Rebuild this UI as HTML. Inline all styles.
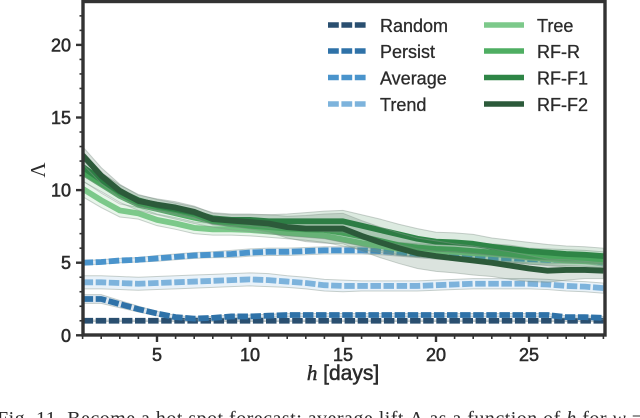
<!DOCTYPE html>
<html lang="en">
<head>
<meta charset="utf-8">
<title>Average lift as a function of h</title>
<style>
  html, body { margin: 0; padding: 0; background: #fff; }
  body { width: 640px; height: 418px; overflow: hidden; }
  svg { display: block; }
  text { font-family: "Liberation Sans", sans-serif; fill: #2b2b2b; }
</style>
</head>
<body>
<svg id="chart" width="640" height="418" viewBox="0 0 640 418" xmlns="http://www.w3.org/2000/svg">
  <defs><clipPath id="plot-clip"><rect x="83" y="1.5" width="522" height="333.5"></rect></clipPath></defs>
  <g id="bands" clip-path="url(#plot-clip)"></g>
  <g id="ticks"></g>
  <rect x="83" y="1.5" width="522" height="333.5" fill="none" stroke="#333" stroke-width="3.4"></rect>
  <g id="legend"></g>
  <text x="343" y="380" text-anchor="middle" font-size="21" stroke="#2b2b2b" stroke-width="0.5"><tspan font-family="Liberation Serif, serif" font-style="italic">h</tspan> [days]</text>
  <text transform="translate(45,170) rotate(-90)" text-anchor="middle" font-size="21" style="font-family:'Liberation Serif',serif">Λ</text>
  <text x="-3" y="425" font-size="20" textLength="646" style="font-family:'Liberation Serif',serif" fill="#222">Fig. 11.  Become a hot spot forecast: average lift Λ as a function of <tspan font-style="italic">h</tspan> for <tspan font-style="italic">w</tspan> =</text>
</svg>
<script>
const days = [1,2,3,4,5,6,7,8,9,10,11,12,13,14,15,16,17,18,19,20,21,22,23,24,25,26,27,28,29];
const xTicks = [5,10,15,20,25];
const yTicks = [0,5,10,15,20];

const randomValues = [1.0,1.0,1.0,1.0,1.0,1.0,1.0,1.0,1.0,1.0,1.0,1.0,1.0,1.0,1.0,1.0,1.0,1.0,1.0,1.0,1.0,1.0,1.0,1.0,1.0,1.0,1.0,1.0,1.0];
const randomSpread = [0.05,0.05,0.05,0.05,0.05,0.05,0.05,0.05,0.05,0.05,0.05,0.05,0.05,0.05,0.05,0.05,0.05,0.05,0.05,0.05,0.05,0.05,0.05,0.05,0.05,0.05,0.05,0.05,0.05];
const persistValues = [2.5,2.5,2.15,1.8,1.5,1.25,1.15,1.2,1.3,1.3,1.35,1.4,1.4,1.4,1.4,1.4,1.4,1.4,1.4,1.4,1.4,1.4,1.4,1.4,1.4,1.4,1.25,1.25,1.2];
const persistSpread = [0.3,0.3,0.25,0.2,0.15,0.12,0.1,0.1,0.1,0.1,0.1,0.1,0.1,0.1,0.1,0.1,0.1,0.1,0.1,0.1,0.1,0.1,0.1,0.1,0.1,0.1,0.1,0.1,0.1];
const averageValues = [5.0,5.05,5.15,5.2,5.3,5.4,5.5,5.55,5.6,5.7,5.75,5.75,5.8,5.85,5.85,5.85,5.8,5.7,5.6,5.5,5.4,5.35,5.3,5.3,5.25,5.2,5.2,5.2,5.0];
const averageSpread = [0.15,0.15,0.15,0.15,0.2,0.2,0.2,0.2,0.25,0.25,0.25,0.25,0.25,0.25,0.25,0.25,0.25,0.25,0.25,0.25,0.25,0.25,0.25,0.25,0.25,0.25,0.25,0.25,0.25];
const trendValues = [3.65,3.65,3.6,3.55,3.6,3.65,3.7,3.75,3.8,3.85,3.8,3.7,3.6,3.45,3.4,3.4,3.4,3.4,3.4,3.45,3.5,3.55,3.55,3.55,3.55,3.5,3.4,3.35,3.25];
const trendSpread = [0.45,0.45,0.45,0.45,0.45,0.45,0.45,0.45,0.45,0.45,0.45,0.4,0.4,0.4,0.4,0.35,0.35,0.35,0.35,0.35,0.35,0.35,0.35,0.35,0.35,0.35,0.35,0.35,0.35];
const treeValues = [10.1,9.3,8.6,8.4,7.95,7.7,7.4,7.3,7.3,7.25,7.15,7.05,6.95,6.85,6.6,6.35,6.15,5.95,5.85,5.8,5.75,5.65,5.6,5.5,5.35,5.25,5.15,5.1,5.05];
const treeSpread = [0.55,0.5,0.45,0.4,0.4,0.4,0.4,0.4,0.4,0.4,0.4,0.4,0.4,0.45,0.45,0.45,0.45,0.45,0.45,0.45,0.45,0.45,0.45,0.45,0.45,0.45,0.45,0.45,0.45];
const rfrValues = [11.2,10.4,9.6,9.0,8.7,8.4,8.1,7.85,7.65,7.55,7.45,7.35,7.3,7.25,7.05,6.8,6.5,6.2,6.05,5.95,5.9,5.8,5.7,5.6,5.45,5.4,5.35,5.3,5.2];
const rfrSpread = [0.6,0.5,0.45,0.4,0.4,0.4,0.4,0.4,0.4,0.4,0.45,0.5,0.55,0.6,0.65,0.65,0.65,0.65,0.65,0.6,0.6,0.6,0.6,0.6,0.55,0.55,0.55,0.55,0.55];
const rff1Values = [11.6,10.7,9.9,9.3,8.95,8.7,8.45,8.05,7.95,7.95,7.85,7.85,7.85,7.85,7.85,7.55,7.25,6.95,6.65,6.45,6.4,6.3,6.1,5.95,5.8,5.7,5.6,5.55,5.45];
const rff1Spread = [0.6,0.5,0.45,0.4,0.4,0.4,0.4,0.4,0.4,0.4,0.45,0.5,0.6,0.7,0.75,0.75,0.75,0.7,0.7,0.65,0.65,0.65,0.6,0.6,0.6,0.55,0.55,0.55,0.55];
const rff2Values = [12.4,11.0,9.95,9.25,9.0,8.8,8.5,8.0,7.9,7.8,7.7,7.45,7.35,7.35,7.35,6.85,6.4,6.0,5.65,5.45,5.3,5.15,5.0,4.8,4.6,4.45,4.5,4.5,4.45];
const rff2Spread = [0.6,0.55,0.45,0.4,0.4,0.4,0.4,0.4,0.4,0.5,0.6,0.75,0.9,1.0,1.05,1.05,1.05,1.05,1.05,1.05,1.0,1.0,0.95,0.95,0.9,0.8,0.7,0.6,0.55];

const legendLabelsLeft = ["Random","Persist","Average","Trend"];
const legendLabelsRight = ["Tree","RF-R","RF-F1","RF-F2"];

const NS = "http://www.w3.org/2000/svg";
const xScale = d => 157 + (d - 5) * 18.6;
const yScale = v => 335.3 - v * 14.52;

function make(tag, attrs, parent) {
  const el = document.createElementNS(NS, tag);
  for (const k in attrs) el.setAttribute(k, attrs[k]);
  parent.appendChild(el);
  return el;
}

const seriesList = [
  {key:"random", vals:randomValues, spread:randomSpread, color:"#2a4f70", dash:true},
  {key:"persist", vals:persistValues, spread:persistSpread, color:"#2f72a8", dash:true},
  {key:"average", vals:averageValues, spread:averageSpread, color:"#4a94cc", dash:true},
  {key:"trend", vals:trendValues, spread:trendSpread, color:"#7db3dc", dash:true},
  {key:"tree", vals:treeValues, spread:treeSpread, color:"#7cc98a", dash:false},
  {key:"rf-r", vals:rfrValues, spread:rfrSpread, color:"#4fae62", dash:false},
  {key:"rf-f1", vals:rff1Values, spread:rff1Spread, color:"#2e8546", dash:false},
  {key:"rf-f2", vals:rff2Values, spread:rff2Spread, color:"#2c5a3a", dash:false}
];

const layer = document.getElementById("bands");
seriesList.forEach(s => {
  const upper = days.map((d, i) => xScale(d) + "," + yScale(s.vals[i] + s.spread[i]));
  const lower = days.map((d, i) => xScale(d) + "," + yScale(s.vals[i] - s.spread[i])).reverse();
  const band = make("polygon", {points: upper.concat(lower).join(" "), fill: s.color, "fill-opacity": 0.17, stroke: "#8a9a90", "stroke-opacity": 0.45, "stroke-width": 1}, layer);
  
  
  const line = make("polyline", {points: days.map((d, i) => xScale(d) + "," + yScale(s.vals[i])).join(" "), fill: "none", stroke: s.color, "stroke-width": 5.8, "stroke-linejoin": "round"}, layer);
  if (s.dash) line.setAttribute("stroke-dasharray", "10.5 2.6");
  
  
});

const ticks = document.getElementById("ticks");
for (let d = 1; d <= 29; d++) {
  const major = xTicks.includes(d);
  const t = make("line", {x1: xScale(d), x2: xScale(d), y1: 335, y2: major ? 342 : 339, stroke: "#333", "stroke-width": major ? 2.4 : 1.6}, ticks);
  
  
}
for (let v = 0; v <= 22; v++) {
  const major = yTicks.includes(v);
  const t = make("line", {x1: major ? 76 : 79.5, x2: 83, y1: yScale(v), y2: yScale(v), stroke: "#333", "stroke-width": major ? 2.4 : 1.6}, ticks);
  
  
}
xTicks.forEach(d => {
  const t = make("text", {x: xScale(d), y: 361, "text-anchor": "middle", "font-size": 18, stroke: "#2b2b2b", "stroke-width": 0.55}, ticks);
  t.textContent = d;
  
  
});
yTicks.forEach(v => {
  const t = make("text", {x: 71, y: yScale(v) + 6.5, "text-anchor": "end", "font-size": 18, stroke: "#2b2b2b", "stroke-width": 0.55}, ticks);
  t.textContent = v;
  
  
});

const legend = document.getElementById("legend");
const legendRows = [25, 51, 77.5, 104];
legendLabelsLeft.forEach((label, i) => {
  const h = make("line", {x1: 328, x2: 366, y1: legendRows[i], y2: legendRows[i], stroke: seriesList[i].color, "stroke-width": 5.4, "stroke-dasharray": "10.8 2.6"}, legend);
  
  
  const t = make("text", {x: 380, y: legendRows[i] + 7, "font-size": 18, stroke: "#2b2b2b", "stroke-width": 0.3}, legend);
  t.textContent = label;
  
  
});
legendLabelsRight.forEach((label, i) => {
  const h = make("line", {x1: 484, x2: 524, y1: legendRows[i], y2: legendRows[i], stroke: seriesList[i + 4].color, "stroke-width": 5.4}, legend);
  
  
  const t = make("text", {x: 537, y: legendRows[i] + 7, "font-size": 18, stroke: "#2b2b2b", "stroke-width": 0.3}, legend);
  t.textContent = label;
  
  
});
</script>
</body>
</html>
